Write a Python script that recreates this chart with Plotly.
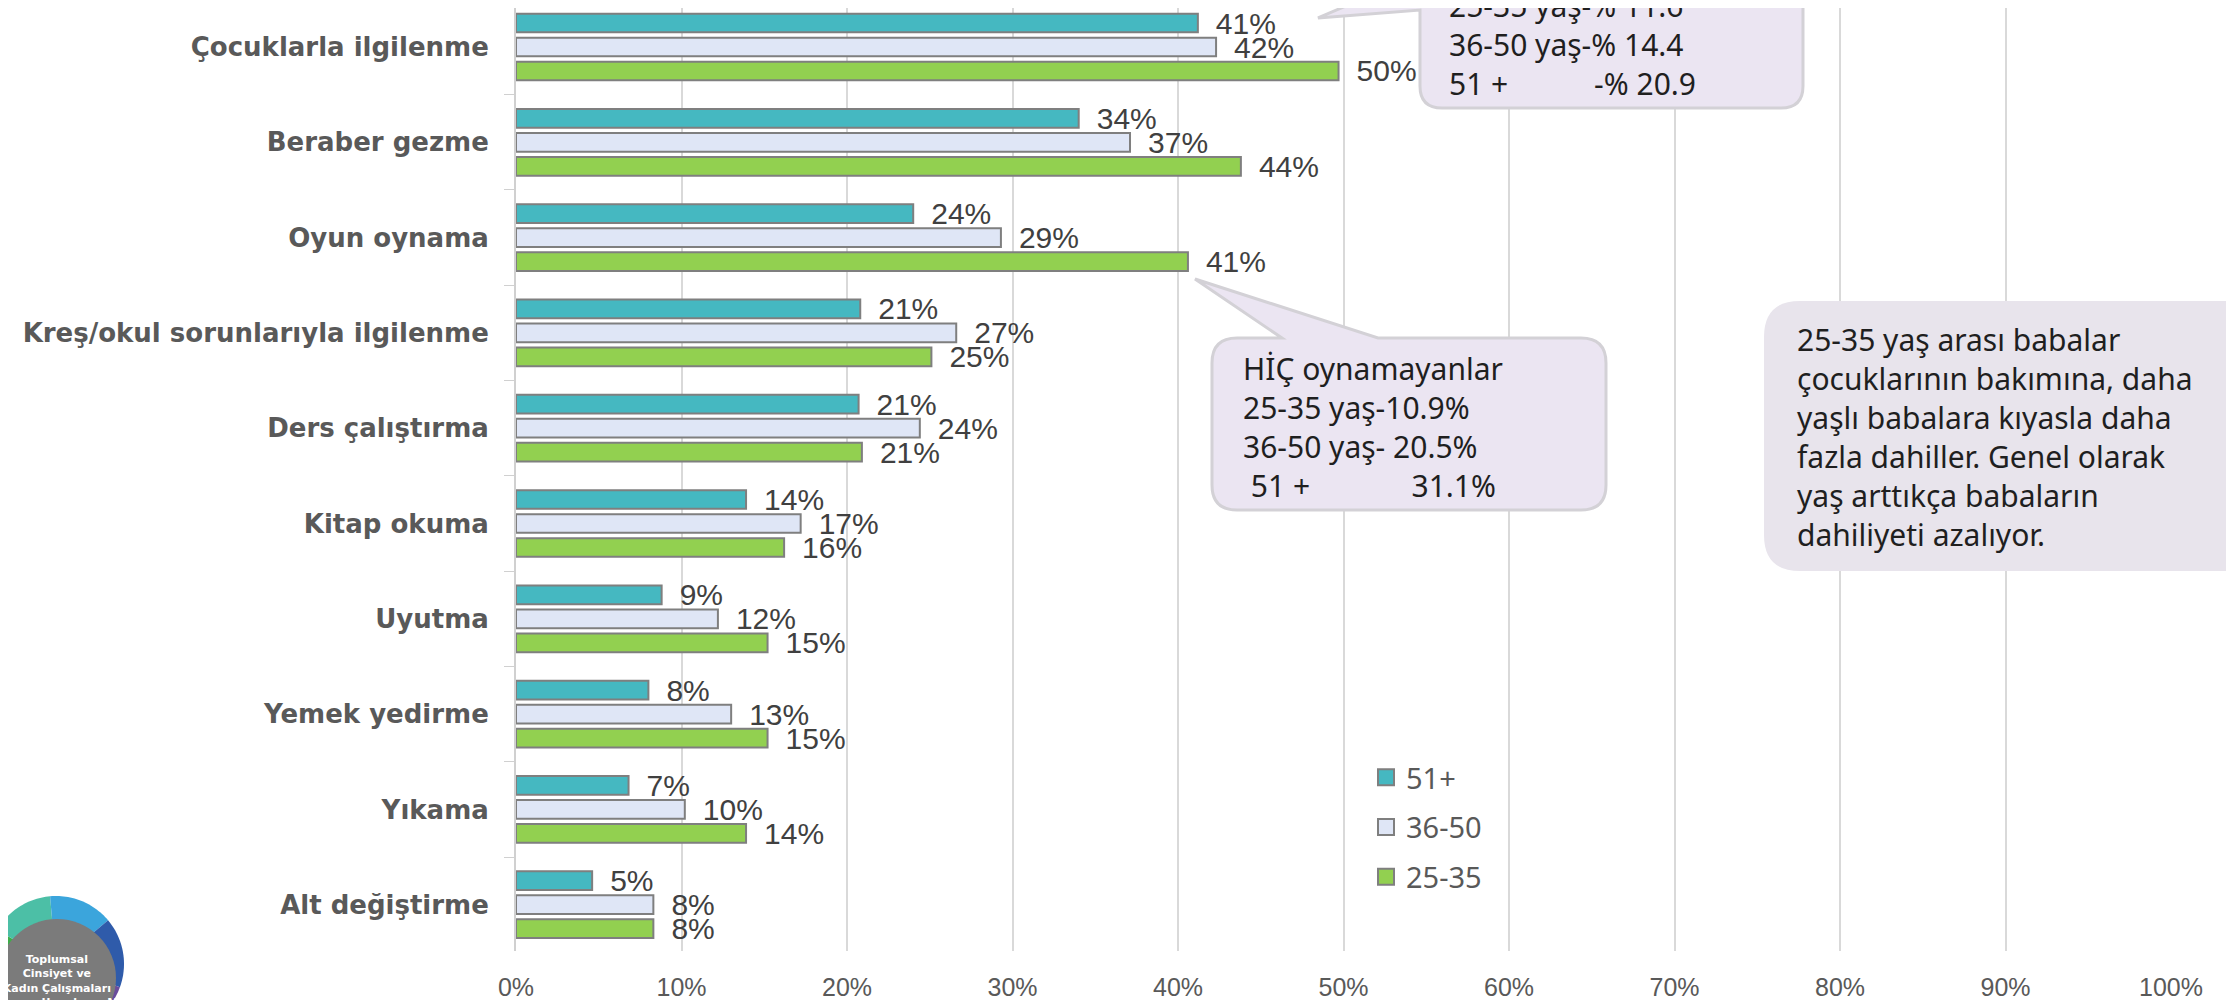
import plotly.graph_objects as go
import numpy as np

# ---------------- data ----------------
categories = [
    "Çocuklarla ilgilenme",
    "Beraber gezme",
    "Oyun oynama",
    "Kreş/okul sorunlarıyla ilgilenme",
    "Ders çalıştırma",
    "Kitap okuma",
    "Uyutma",
    "Yemek yedirme",
    "Yıkama",
    "Alt değiştirme",
]
series_names = ["51+", "36-50", "25-35"]
vals_51 = [41.2, 34.0, 24.0, 20.8, 20.7, 13.9, 8.8, 8.0, 6.8, 4.6]
vals_36_50 = [42.3, 37.1, 29.3, 26.6, 24.4, 17.2, 12.2, 13.0, 10.2, 8.3]
vals_25_35 = [49.7, 43.8, 40.6, 25.1, 20.9, 16.2, 15.2, 15.2, 13.9, 8.3]
x_tick_vals = [0, 10, 20, 30, 40, 50, 60, 70, 80, 90, 100]
x_tick_text = ["0%", "10%", "20%", "30%", "40%", "50%", "60%", "70%", "80%", "90%", "100%"]

callout_top = ["25-35 yaş-% 11.6", "36-50 yaş-% 14.4", "51 +" + "\u00a0" * 11 + "-% 20.9"]
callout_mid = ["HİÇ oynamayanlar", "25-35 yaş-10.9%", "36-50 yaş- 20.5%",
               "\u00a051 +" + "\u00a0" * 13 + "31.1%"]
callout_right = ["25-35 yaş arası babalar", "çocuklarının bakımına, daha",
                 "yaşlı babalara kıyasla daha", "fazla dahiller. Genel olarak",
                 "yaş arttıkça babaların", "dahiliyeti azalıyor."]
logo_lines = ["Toplumsal", "Cinsiyet ve", "Kadın Çalışmaları", "Araştırma ve Uygulama Merkezi"]

colors = ["#45B8C1", "#DFE6F6", "#92D050"]
series_vals = [vals_51, vals_36_50, vals_25_35]

# ---------------- geometry helpers (screen px -> paper) ----------------
W, H = 2234, 1000
OFF = 8                      # default body margin of the page
SL, SR = 516, 2171           # plot left/right on screen
ST, SB = OFF, 951            # plot top/bottom on screen
ML = SL - OFF
MR = W - (SR - OFF)
MB = H - (SB - OFF)
PW, PH = SR - SL, SB - ST

band = 95.3
first_c = 47.0
r_top = -(first_c - ST) / band
r_bot = r_top + PH / band


def px(x):
    return (x - SL) / PW


def py(y):
    return (SB - y) / PH


def pt(x, y):
    return f"{px(x):.5f},{py(y):.5f}"


fig = go.Figure()

for name, vals, col in zip(series_names, series_vals, colors):
    fig.add_trace(go.Bar(
        y=categories, x=vals, orientation="h", name=name,
        marker=dict(color=col, line=dict(color="#7F7F7F", width=2)),
        text=["\u2002" + f"{round(v)}%" for v in vals],
        textposition="outside", constraintext="none", cliponaxis=False,
        textfont=dict(family="Liberation Sans Narrow, Liberation Sans", size=30, color="#404040"),
        showlegend=False, hoverinfo="x+y",
    ))

for name, col in zip(series_names, colors):
    fig.add_trace(go.Scatter(
        x=[None], y=[None], mode="markers", name=name, legendgroup=name,
        marker=dict(symbol="square", size=16, color=col, line=dict(color="#7F7F7F", width=2)),
    ))

shapes = []

# callout 1 (top)
r = 22
p1 = (f"M {pt(1420,-80)} L {pt(1420,-26)} L {pt(1318,18)} L {pt(1420,10)} "
      f"L {pt(1420,108-r)} Q {pt(1420,108)} {pt(1420+r,108)} L {pt(1803-r,108)} "
      f"Q {pt(1803,108)} {pt(1803,108-r)} L {pt(1803,-80)} Z")
shapes.append(dict(type="path", xref="paper", yref="paper", path=p1,
                   fillcolor="#EBE5F2", line=dict(color="#D3D1D6", width=3), layer="above"))

# callout 2 (middle)
x0, y0, x1, y1, r = 1212, 338, 1606, 510, 25
p2 = (f"M {pt(x0+r,y0)} L {pt(1282,y0)} L {pt(1195,279)} L {pt(1378,y0)} "
      f"L {pt(x1-r,y0)} Q {pt(x1,y0)} {pt(x1,y0+r)} L {pt(x1,y1-r)} Q {pt(x1,y1)} {pt(x1-r,y1)} "
      f"L {pt(x0+r,y1)} Q {pt(x0,y1)} {pt(x0,y1-r)} L {pt(x0,y0+r)} Q {pt(x0,y0)} {pt(x0+r,y0)} Z")
shapes.append(dict(type="path", xref="paper", yref="paper", path=p2,
                   fillcolor="#EBE5F2", line=dict(color="#D3D1D6", width=3), layer="above"))

# callout 3 (right)
x0, y0, x1, y1, r = 1764, 301, 2275, 571, 36
p3 = (f"M {pt(x0+r,y0)} L {pt(x1-r,y0)} Q {pt(x1,y0)} {pt(x1,y0+r)} L {pt(x1,y1-r)} "
      f"Q {pt(x1,y1)} {pt(x1-r,y1)} L {pt(x0+r,y1)} Q {pt(x0,y1)} {pt(x0,y1-r)} "
      f"L {pt(x0,y0+r)} Q {pt(x0,y0)} {pt(x0+r,y0)} Z")
shapes.append(dict(type="path", xref="paper", yref="paper", path=p3,
                   fillcolor="#E8E4EC", line=dict(width=0), layer="above"))

# logo: coloured ring wedges + grey disc
cx, cy, R = 56, 964, 68
wedges = [(150, 240, "#3DAE49"), (95, 150, "#4CBFA6"), (40, 95, "#3BA5DC"),
          (-20, 40, "#2F5BAA"), (-85, -20, "#6A4C9C"), (240, 275, "#3DAE49")]
for a0, a1, c in wedges:
    angs = np.radians(np.linspace(a0, a1, 30))
    path = f"M {pt(cx,cy)} " + " ".join(
        f"L {pt(cx + R*np.cos(a), cy - R*np.sin(a))}" for a in angs) + " Z"
    shapes.append(dict(type="path", xref="paper", yref="paper", path=path,
                       fillcolor=c, line=dict(width=0), layer="above"))
gx, gy, gr = 57, 978, 59
shapes.append(dict(type="circle", xref="paper", yref="paper",
                   x0=px(gx-gr), x1=px(gx+gr), y0=py(gy+gr), y1=py(gy-gr),
                   fillcolor="#7B7B7B", line=dict(width=0), layer="above"))

annotations = [
    dict(xref="paper", yref="paper", x=px(1447), y=py(44), xanchor="left", yanchor="middle",
         align="left", showarrow=False, text="<br>".join(callout_top),
         font=dict(family="Noto Sans", size=30, color="#1F1F1F")),
    dict(xref="paper", yref="paper", x=px(1241), y=py(427), xanchor="left", yanchor="middle",
         align="left", showarrow=False, text="<br>".join(callout_mid),
         font=dict(family="Noto Sans", size=30, color="#1F1F1F")),
    dict(xref="paper", yref="paper", x=px(1795), y=py(437), xanchor="left", yanchor="middle",
         align="left", showarrow=False, text="<br>".join(callout_right),
         font=dict(family="Noto Sans", size=30, color="#1F1F1F")),
    dict(xref="paper", yref="paper", x=px(57), y=py(951), xanchor="center", yanchor="top",
         align="center", showarrow=False, text="<br>".join(logo_lines),
         font=dict(family="DejaVu Sans", size=11, color="#FFFFFF", weight="bold")),
]

fig.update_layout(
    width=W, height=H,
    margin=dict(l=ML, r=MR, t=0, b=MB, pad=0),
    paper_bgcolor="white", plot_bgcolor="white",
    barmode="group", bargap=0.245, bargroupgap=0.22,
    shapes=shapes, annotations=annotations,
    legend=dict(x=px(1366), y=py(752), xanchor="left", yanchor="top",
                traceorder="grouped", tracegroupgap=9,
                font=dict(family="Noto Sans", size=29, color="#595959"),
                bgcolor="rgba(0,0,0,0)"),
    showlegend=True,
)
fig.update_xaxes(
    range=[0, 100], tickvals=x_tick_vals, ticktext=x_tick_text,
    showgrid=True, gridcolor="#D9D9D9", gridwidth=1.5, zeroline=False,
    ticks="outside", ticklen=14, tickcolor="rgba(0,0,0,0)", showline=False,
    tickfont=dict(family="Liberation Sans Narrow, Liberation Sans", size=25, color="#595959"),
)
fig.update_yaxes(
    range=[r_bot, r_top], showline=True, linecolor="#D0D0D0", linewidth=2,
    ticks="outside", tickson="boundaries", ticklen=10, tickcolor="#D0D0D0",
    ticklabelstandoff=20, showgrid=False,
    tickfont=dict(family="DejaVu Sans", size=26, color="#595959", weight="bold"),
)

fig.write_html("out.html")
